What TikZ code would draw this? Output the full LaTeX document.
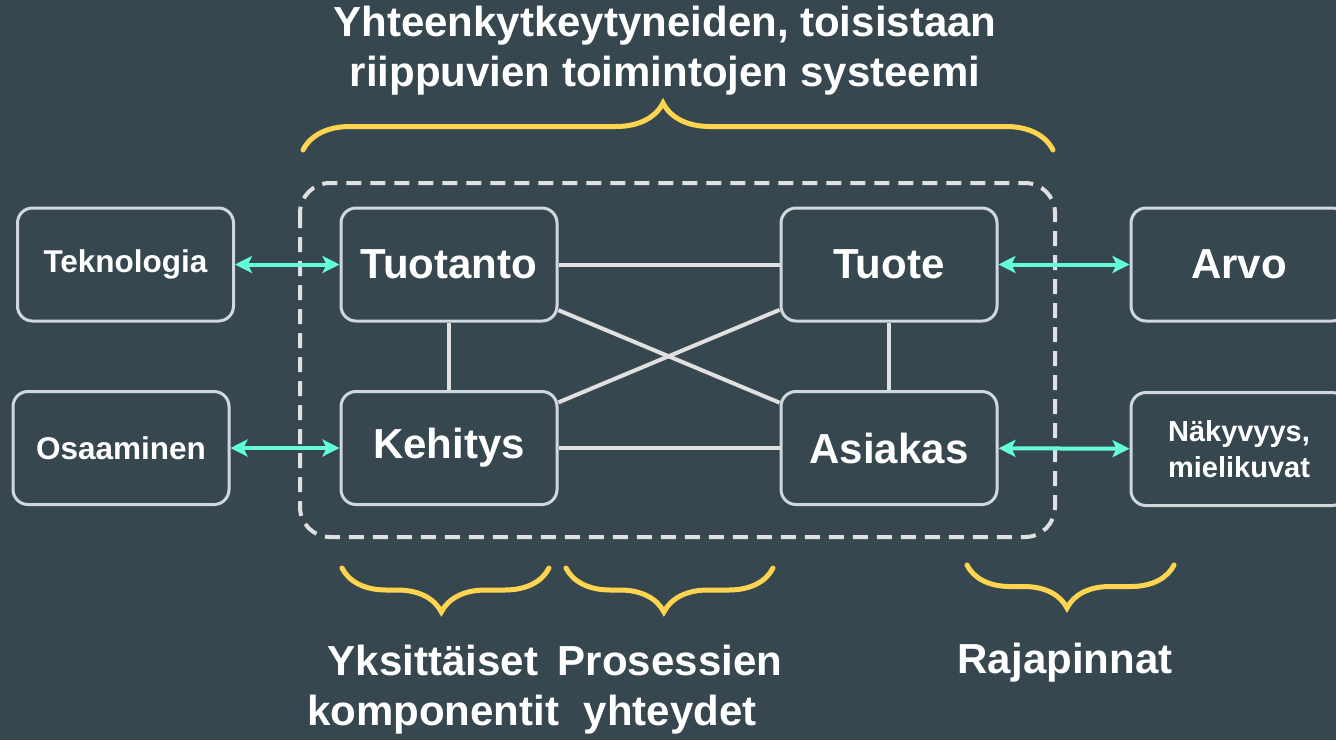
\documentclass[tikz,border=0pt]{standalone}
\usepackage{fontspec}
\setmainfont{Liberation Sans}
\usetikzlibrary{arrows.meta,decorations.pathreplacing}

\definecolor{bgslate}{HTML}{37474F}
\definecolor{boxline}{HTML}{CFD8DC}
\definecolor{linkgray}{HTML}{E0E0E0}
\definecolor{aqua}{HTML}{64FFDA}
\definecolor{braceyellow}{HTML}{FFD54F}

\begin{document}
\begin{tikzpicture}[x=1pt,y=1pt]
    \tikzstyle{every node}=[node distance=440pt]
    \tikzstyle{box}=[draw=boxline, line width=3pt, rounded corners=15pt, minimum width=216pt, minimum height=113pt, text=white, align=center, font=\bfseries\fontsize{42}{50}\selectfont]
    \tikzstyle{smallbox}=[box, font=\bfseries\fontsize{31.5}{38}\selectfont]
    \tikzstyle{label}=[text=white, align=center, font=\bfseries\fontsize{42}{50}\selectfont]
    \tikzstyle{link}=[draw=linkgray, line width=4pt]
    \tikzstyle{iface}=[draw=aqua, line width=4pt, {Stealth[length=17pt,width=17pt,inset=4pt]}-{Stealth[length=17pt,width=17pt,inset=4pt]}]
    \tikzstyle{curly}=[draw=braceyellow, line width=5pt, line cap=round, decorate]

    \fill[bgslate] (0,0) rectangle (1336,-740);
    \useasboundingbox (0,0) rectangle (1336,-740);

    \node (title) [label] at (665,-51) {Yhteenkytkeytyneiden, toisistaan\\riippuvien toimintojen systeemi};

    \draw[linkgray, line width=4pt, dash pattern=on 15pt off 9pt, rounded corners=30pt] (300,-183) rectangle (1055,-537);

    \node (tuotanto) [box] at (449,-264.5) {Tuotanto};
    \node (kehitys) [box, below of=tuotanto, node distance=183.5pt] {Kehitys};
    \node (tuote) [box, right of=tuotanto] {Tuote};
    \node (asiakas) [box, below of=tuote, node distance=183.5pt] {Asiakas};
    \node (teknologia) [smallbox, left of=tuotanto, node distance=323.5pt] {Teknologia};
    \node (osaaminen) [smallbox, left of=kehitys, node distance=328pt] {Osaaminen};
    \node (arvo) [box, right of=tuote, node distance=350pt] {Arvo};
    \node (nakyvyys) [smallbox, right of=asiakas, node distance=350pt, yshift=-1pt, font=\bfseries\fontsize{29}{36}\selectfont] {Näkyvyys,\\mielikuvat};

    \draw[link] (tuotanto) -- (tuote);
    \draw[link] (kehitys) -- (asiakas);
    \draw[link] (tuotanto) -- (kehitys);
    \draw[link] (tuote) -- (asiakas);
    \draw[link] (tuotanto) -- (asiakas);
    \draw[link] (kehitys) -- (tuote);

    \draw[iface] (teknologia) -- (tuotanto);
    \draw[iface] (osaaminen) -- (kehitys);
    \draw[iface] (tuote) -- (arvo);
    \draw[iface] (asiakas) -- (nakyvyys);

    \draw[curly, decoration={brace, amplitude=47pt, aspect=0.48}] (303,-150) -- (1053,-150);
    \draw[curly, decoration={brace, amplitude=44pt, aspect=0.52}] (549,-568) -- (342,-568);
    \draw[curly, decoration={brace, amplitude=44pt, aspect=0.527}] (773,-568) -- (566,-568);
    \draw[curly, decoration={brace, amplitude=43pt, aspect=0.517}] (1174,-565) -- (967,-565);

    \node (yksittaiset) [label] at (433,-690) {Yksittäiset\\komponentit};
    \node (prosessien) [label] at (670,-690) {Prosessien\\yhteydet};
    \node (rajapinnat) [label] at (1065,-663) {Rajapinnat};
\end{tikzpicture}
\end{document}
